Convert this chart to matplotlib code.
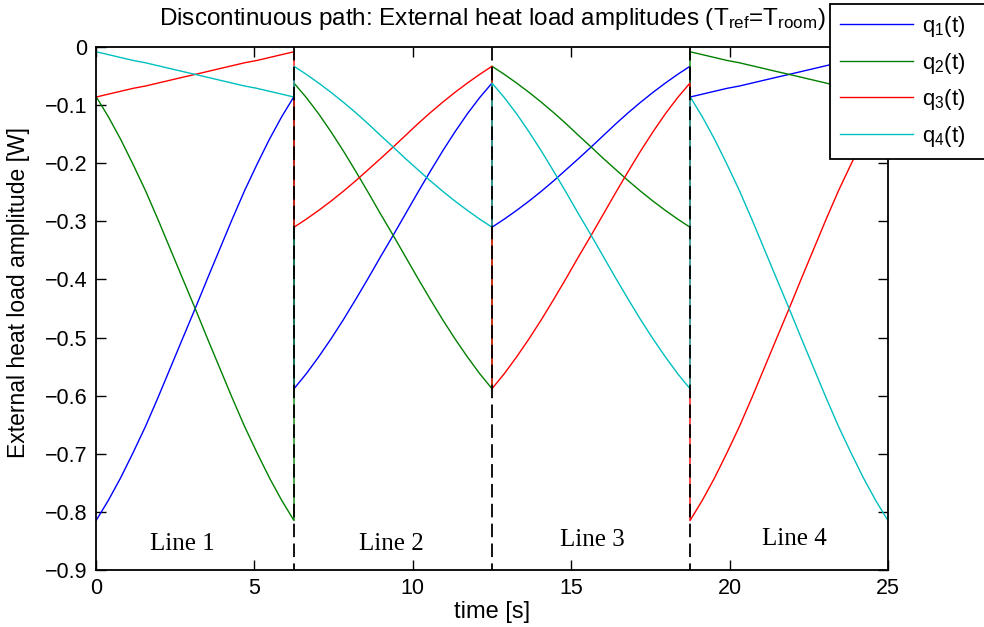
import matplotlib
matplotlib.use("Agg")
import matplotlib.pyplot as plt

plt.rcParams["font.family"] = ["Liberation Sans", "DejaVu Sans"]
plt.rcParams["mathtext.default"] = "regular"

# sample times inside one path segment, and start time of each segment (s)
t_local = [0.0, 0.39, 0.78, 1.17, 1.56, 1.95, 2.34, 2.73, 3.13,
           3.52, 3.91, 4.30, 4.69, 5.08, 5.47, 5.86, 6.25]
seg_start = [0.0, 6.25, 12.5, 18.75]
time = [s + t for s in seg_start for t in t_local]

# external heat load amplitudes [W] (one row per line segment)
q1 = [-0.815, -0.780, -0.741, -0.698, -0.653, -0.604, -0.553, -0.502, -0.450, -0.398, -0.347, -0.296, -0.247, -0.202, -0.159, -0.120, -0.085,
      -0.588, -0.562, -0.533, -0.502, -0.469, -0.434, -0.398, -0.361, -0.324, -0.287, -0.250, -0.214, -0.179, -0.146, -0.115, -0.087, -0.062,
      -0.310, -0.296, -0.281, -0.265, -0.248, -0.230, -0.211, -0.192, -0.172, -0.152, -0.132, -0.113, -0.095, -0.078, -0.062, -0.047, -0.033,
      -0.086, -0.081, -0.076, -0.071, -0.067, -0.062, -0.057, -0.052, -0.047, -0.042, -0.037, -0.032, -0.027, -0.023, -0.018, -0.013, -0.008]
q2 = [-0.085, -0.120, -0.159, -0.202, -0.247, -0.296, -0.347, -0.398, -0.450, -0.502, -0.553, -0.604, -0.653, -0.698, -0.741, -0.780, -0.815,
      -0.062, -0.087, -0.115, -0.146, -0.179, -0.214, -0.250, -0.287, -0.324, -0.361, -0.398, -0.434, -0.469, -0.502, -0.533, -0.562, -0.588,
      -0.033, -0.047, -0.062, -0.078, -0.095, -0.113, -0.132, -0.152, -0.172, -0.192, -0.211, -0.230, -0.248, -0.265, -0.281, -0.296, -0.310,
      -0.008, -0.013, -0.018, -0.023, -0.027, -0.032, -0.037, -0.042, -0.047, -0.052, -0.057, -0.062, -0.067, -0.071, -0.076, -0.081, -0.086]
q3 = [-0.086, -0.081, -0.076, -0.071, -0.067, -0.062, -0.057, -0.052, -0.047, -0.042, -0.037, -0.032, -0.027, -0.023, -0.018, -0.013, -0.008,
      -0.310, -0.296, -0.281, -0.265, -0.248, -0.230, -0.211, -0.192, -0.172, -0.152, -0.132, -0.113, -0.095, -0.078, -0.062, -0.047, -0.033,
      -0.588, -0.562, -0.533, -0.502, -0.469, -0.434, -0.398, -0.361, -0.324, -0.287, -0.250, -0.214, -0.179, -0.146, -0.115, -0.087, -0.062,
      -0.815, -0.780, -0.741, -0.698, -0.653, -0.604, -0.553, -0.502, -0.450, -0.398, -0.347, -0.296, -0.247, -0.202, -0.159, -0.120, -0.085]
q4 = [-0.008, -0.013, -0.018, -0.023, -0.027, -0.032, -0.037, -0.042, -0.047, -0.052, -0.057, -0.062, -0.067, -0.071, -0.076, -0.081, -0.086,
      -0.033, -0.047, -0.062, -0.078, -0.095, -0.113, -0.132, -0.152, -0.172, -0.192, -0.211, -0.230, -0.248, -0.265, -0.281, -0.296, -0.310,
      -0.062, -0.087, -0.115, -0.146, -0.179, -0.214, -0.250, -0.287, -0.324, -0.361, -0.398, -0.434, -0.469, -0.502, -0.533, -0.562, -0.588,
      -0.085, -0.120, -0.159, -0.202, -0.247, -0.296, -0.347, -0.398, -0.450, -0.502, -0.553, -0.604, -0.653, -0.698, -0.741, -0.780, -0.815]

switch_times = [6.25, 12.5, 18.75]
seg_labels = ["Line 1", "Line 2", "Line 3", "Line 4"]
seg_label_x = [2.74, 9.31, 15.66, 22.06]
seg_label_y = [-0.866, -0.866, -0.858, -0.857]

fig = plt.figure(figsize=(9.84, 6.27), dpi=100)
ax = fig.add_axes([0.0976, 0.0909, 0.8048, 0.834])

ax.plot(time, q1, color=(0, 0, 1), lw=1.0, label="q$_1$(t)")
ax.plot(time, q2, color=(0, 0.5, 0), lw=1.0, label="q$_2$(t)")
ax.plot(time, q3, color=(1, 0, 0), lw=1.0, label="q$_3$(t)")
ax.plot(time, q4, color=(0, 0.75, 0.75), lw=1.0, label="q$_4$(t)")

for ts in switch_times:
    ax.plot([ts, ts], [0, -0.9], color="k", lw=1.3, linestyle=(0, (7.5, 3.5)))

for lab, lx, ly in zip(seg_labels, seg_label_x, seg_label_y):
    ax.text(lx, ly, lab, ha="center", va="baseline", fontsize=18,
            family=["Liberation Serif", "DejaVu Serif"])

ax.set_xlim(0, 25)
ax.set_ylim(-0.9, 0)
ax.set_xticks([0, 5, 10, 15, 20, 25])
ax.set_yticks([0, -0.1, -0.2, -0.3, -0.4, -0.5, -0.6, -0.7, -0.8, -0.9])
ax.set_yticklabels(["0", "\u22120.1", "\u22120.2", "\u22120.3", "\u22120.4", "\u22120.5",
                    "\u22120.6", "\u22120.7", "\u22120.8", "\u22120.9"])
ax.tick_params(direction="in", length=7, width=1, top=True, right=True, labelsize=15.5, pad=6)
for sp in ax.spines.values():
    sp.set_linewidth(1.3)

ax.set_xlabel("time [s]", fontsize=17, labelpad=1)
ax.set_ylabel("External heat load amplitude [W]", fontsize=16.5)
ax.yaxis.set_label_coords(-0.083, 0.53)
ax.set_title("Discontinuous path: External heat load amplitudes (T$_{ref}$=T$_{room}$)",
             fontsize=17.5, pad=16)

leg = fig.legend(loc="upper left", bbox_to_anchor=(0.8435, 0.9936, 0.175, 0), mode="expand",
                 fontsize=16, handlelength=3.3, handletextpad=0.4, fancybox=False,
                 framealpha=1, edgecolor="k", borderpad=0.45, labelspacing=0.52,
                 borderaxespad=0)
leg.get_frame().set_linewidth(1.3)

fig.savefig("out.png", dpi=100)
